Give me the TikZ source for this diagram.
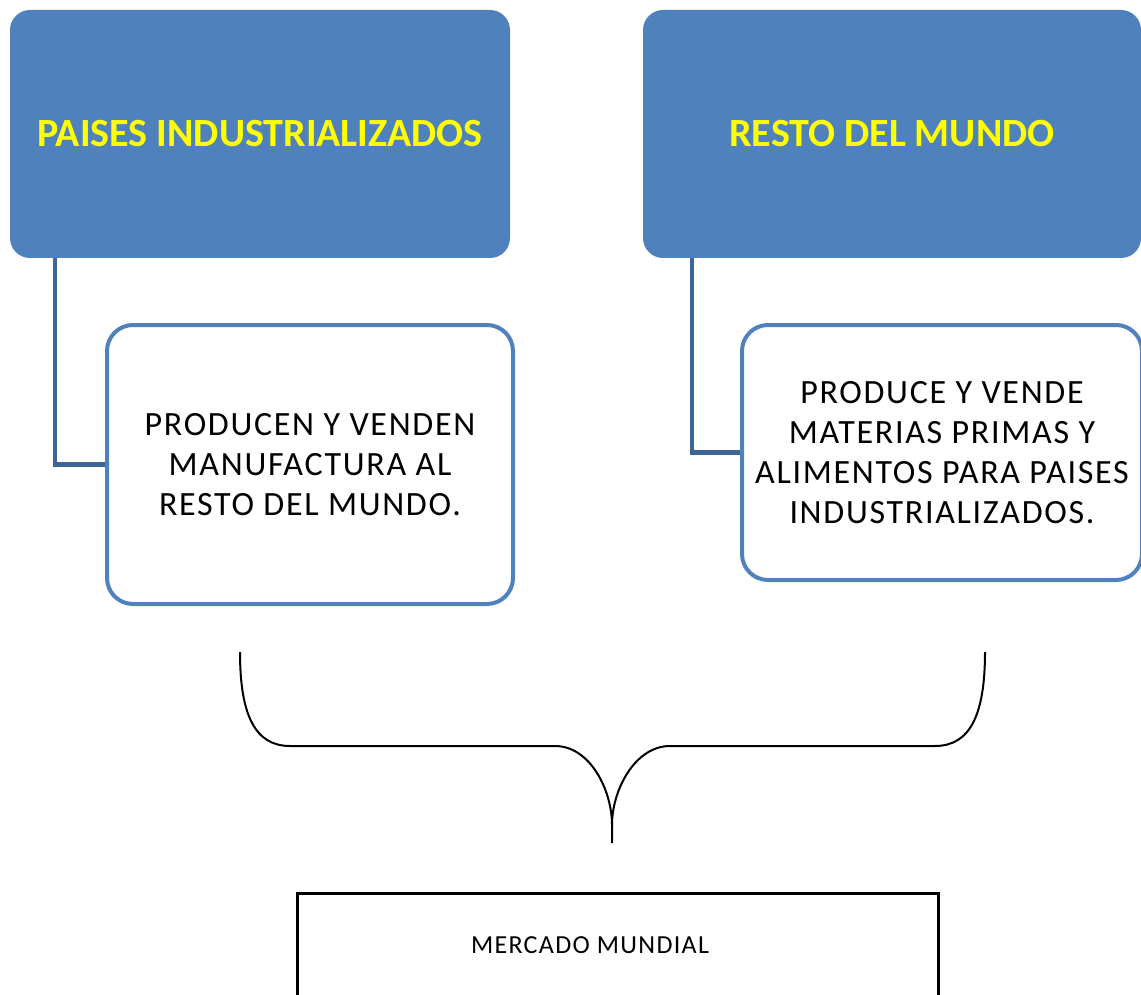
\documentclass[tikz,border=0pt]{standalone}
\usepackage{fontspec}
\setmainfont{Carlito}
\newfontfamily\bodyfont{Carlito}[LetterSpace=5]
\definecolor{boxblue}{HTML}{4F81BD}
\definecolor{linkblue}{HTML}{3D6598}
\definecolor{titleyellow}{HTML}{FFFF00}
\begin{document}
\begin{tikzpicture}[x=1pt,y=-1pt,
  headbox/.style={draw=none,fill=boxblue,rounded corners=20pt,inner sep=0pt,
    font=\fontsize{40}{44}\selectfont\bfseries,text=titleyellow,align=center},
  infobox/.style={draw=boxblue,line width=4pt,fill=white,rounded corners=26pt,inner sep=0pt,
    font=\bodyfont\fontsize{34}{40}\selectfont,text=black,align=center},
  link/.style={draw=linkblue,line width=4.5pt},
  bracecurve/.style={draw=black,line width=2pt},
  marketbox/.style={draw=black,line width=3pt,fill=white,inner sep=0pt}]
\useasboundingbox (0,0) rectangle (1141,995);
\clip (0,0) rectangle (1141,995);
% top boxes
\node[headbox,minimum width=500pt,minimum height=248pt] (pi) at (260,134) {PAISES INDUSTRIALIZADOS};
\node[headbox,minimum width=498pt,minimum height=248pt] (rm) at (892,134) {RESTO DEL MUNDO};
% description boxes
\node[infobox,minimum width=406pt,minimum height=279pt] (pd) at (310,464.5) {PRODUCEN Y VENDEN\\MANUFACTURA AL\\RESTO DEL MUNDO.};
\node[infobox,minimum width=400pt,minimum height=255pt] (rd) at (942,452.5) {PRODUCE Y VENDE\\MATERIAS PRIMAS Y\\ALIMENTOS PARA PAISES\\INDUSTRIALIZADOS.};
% connectors
\draw[link] ([xshift=45pt]pi.south west) |- (pd.west);
\draw[link] ([xshift=49pt]rm.south west) |- (rd.west);
% brace
\coordinate (bl) at (240,652);
\coordinate (br) at (985,652);
\coordinate (bt) at (612,843);
\draw[bracecurve] (bl) .. controls (240,715) and (255,746) .. (290,746)
  -- (555,746) .. controls (590,746) and (612,790) .. (612,825) -- (bt);
\draw[bracecurve] (br) .. controls (985,715) and (970,746) .. (935,746)
  -- (670,746) .. controls (635,746) and (612,790) .. (612,825);
% market box
\node[marketbox,minimum width=641pt,minimum height=130pt] (mm) at (617.5,958) {};
\node[font=\bodyfont\fontsize{26}{30}\selectfont,text=black] (mmt) at (590,945) {MERCADO MUNDIAL};
\end{tikzpicture}
\end{document}
